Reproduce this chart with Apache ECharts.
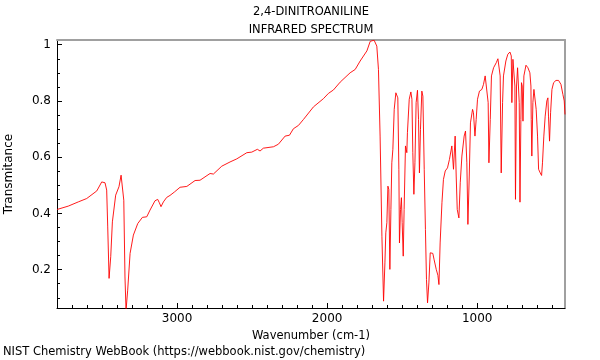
<!DOCTYPE html>
<html><head><meta charset="utf-8">
<script src="https://cdn.jsdelivr.net/npm/echarts@6/dist/echarts.min.js"></script>
<style>html,body{margin:0;padding:0;background:#fff}#c{width:600px;height:360px}</style>
</head><body><div id="c"></div>
<script>
const wavenumbers = [3800,3725,3658,3602,3535,3502,3480,3469,3462,3453,3442,3431,3409,3387,3373,3362,3355,3347,3340,3329,3313,3291,3262,3231,3202,3180,3147,3129,3118,3107,3091,3069,3047,3018,2980,2935,2880,2847,2780,2758,2702,2647,2602,2535,2502,2465,2447,2425,2358,2325,2280,2251,2225,2191,2158,2091,2025,1991,1958,1913,1847,1813,1780,1735,1713,1700,1687,1675,1669,1658,1647,1635,1624,1615,1609,1602,1595,1589,1582,1575,1569,1562,1553,1542,1529,1522,1518,1511,1505,1500,1493,1487,1478,1473,1469,1465,1453,1442,1435,1429,1422,1415,1407,1398,1391,1385,1378,1369,1362,1353,1345,1338,1331,1322,1313,1302,1296,1287,1273,1262,1255,1247,1235,1225,1213,1198,1185,1169,1158,1147,1140,1133,1122,1113,1102,1087,1078,1069,1062,1053,1045,1031,1025,1015,1007,998,985,969,958,947,935,927,922,913,905,891,873,862,853,847,840,831,825,818,809,796,782,773,769,762,753,749,745,738,731,725,720,715,709,705,700,695,689,675,662,649,642,640,636,629,622,615,607,598,591,580,571,565,556,547,536,529,525,518,511,502,491,475,458,442,429,420,415];
const transmittance = [0.414,0.426,0.441,0.453,0.480,0.512,0.509,0.483,0.352,0.169,0.246,0.370,0.465,0.495,0.536,0.530,0.447,0.174,0.055,0.127,0.258,0.323,0.364,0.386,0.388,0.412,0.445,0.450,0.438,0.424,0.441,0.457,0.464,0.476,0.493,0.496,0.517,0.518,0.542,0.540,0.568,0.583,0.594,0.616,0.618,0.628,0.622,0.632,0.637,0.646,0.675,0.678,0.701,0.713,0.734,0.779,0.808,0.827,0.839,0.867,0.900,0.912,0.942,0.978,1.012,1.016,1.016,1.010,0.995,0.912,0.675,0.319,0.088,0.224,0.331,0.367,0.497,0.485,0.201,0.414,0.580,0.628,0.770,0.829,0.811,0.557,0.295,0.414,0.456,0.367,0.248,0.414,0.640,0.628,0.616,0.687,0.806,0.832,0.806,0.616,0.468,0.580,0.794,0.838,0.734,0.544,0.699,0.835,0.817,0.557,0.343,0.165,0.082,0.153,0.260,0.266,0.258,0.235,0.201,0.180,0.147,0.295,0.438,0.521,0.551,0.562,0.592,0.640,0.557,0.675,0.533,0.414,0.384,0.509,0.604,0.675,0.693,0.580,0.361,0.533,0.722,0.770,0.758,0.675,0.734,0.806,0.835,0.841,0.859,0.889,0.895,0.794,0.580,0.734,0.889,0.918,0.936,0.950,0.948,0.889,0.544,0.794,0.889,0.891,0.942,0.966,0.974,0.960,0.794,0.948,0.948,0.853,0.450,0.853,0.918,0.922,0.794,0.440,0.734,0.865,0.853,0.728,0.889,0.927,0.918,0.900,0.853,0.734,0.604,0.794,0.841,0.835,0.770,0.675,0.557,0.544,0.535,0.580,0.675,0.746,0.800,0.811,0.746,0.657,0.758,0.841,0.865,0.873,0.873,0.859,0.823,0.800,0.752];
const xMajorTicks = [1000, 2000, 3000];
const xMinorTicks = [500,600,700,800,900,1100,1200,1300,1400,1500,1600,1700,1800,1900,2100,2200,2300,2400,2500,2600,2700,2800,2900,3100,3200,3300,3400,3500,3600,3700];
const yMajorTicks = [0.2, 0.4, 0.6, 0.8, 1];
const yMinorTicks = [0.1,0.15,0.25,0.3,0.35,0.45,0.5,0.55,0.65,0.7,0.75,0.85,0.9,0.95];
const titleText = '2,4-DINITROANILINE\nINFRARED SPECTRUM';
const xName = 'Wavenumber (cm-1)';
const yName = 'Transmitance';
const footer = 'NIST Chemistry WebBook (https://webbook.nist.gov/chemistry)';

const X_MIN = 415, X_MAX = 3800, Y_MIN = 0.0637, Y_MAX = 1.0167;
const FONT = 'DejaVu Sans';
const chart = echarts.init(document.getElementById('c'), null, {renderer: 'canvas'});
const hidden = {show: false};
chart.setOption({
  animation: false,
  backgroundColor: '#fff',
  title: [
    {text: titleText, left: 311, top: 3, padding: 0, textAlign: 'center',
     textStyle: {fontFamily: FONT, fontSize: 11.5, fontWeight: 'normal', color: '#000', lineHeight: 18}},
    {text: footer, left: 3, top: 346, padding: 0,
     textStyle: {fontFamily: FONT, fontSize: 11.5, fontWeight: 'normal', color: '#000'}}
  ],
  grid: {left: 57, right: 35, top: 40, bottom: 52, outerBoundsMode: 'none', containLabel: false},
  xAxis: [
    {type: 'value', min: X_MIN, max: X_MAX, inverse: true, position: 'bottom',
     name: xName, nameLocation: 'middle', nameGap: 14,
     nameTextStyle: {fontFamily: FONT, fontSize: 11.5, color: '#000'},
     axisLine: {show: true, lineStyle: {color: '#000', width: 1}},
     axisTick: {show: true, inside: true, length: 5, customValues: xMajorTicks, lineStyle: {color: '#000'}},
     axisLabel: {show: true, customValues: xMajorTicks, margin: 5, formatter: v => String(v),
       fontFamily: FONT, fontSize: 12, color: '#000'},
     splitLine: hidden},
    {type: 'value', min: X_MIN, max: X_MAX, inverse: true, position: 'bottom',
     axisLine: hidden,
     axisTick: {show: true, inside: true, length: 3, customValues: xMinorTicks, lineStyle: {color: '#000'}},
     axisLabel: hidden, splitLine: hidden},
    {type: 'value', min: X_MIN, max: X_MAX, inverse: true, position: 'top',
     axisLine: {show: true, lineStyle: {color: '#a0a0a0', width: 2}},
     axisTick: hidden, axisLabel: hidden, splitLine: hidden}
  ],
  yAxis: [
    {type: 'value', min: Y_MIN, max: Y_MAX, position: 'left',
     name: yName, nameLocation: 'middle', nameGap: 42,
     nameTextStyle: {fontFamily: FONT, fontSize: 12, color: '#000'},
     axisLine: {show: true, lineStyle: {color: '#000', width: 1}},
     axisTick: {show: true, inside: true, length: 5, customValues: yMajorTicks, lineStyle: {color: '#000'}},
     axisLabel: {show: true, customValues: yMajorTicks, margin: 6, formatter: v => String(v),
       fontFamily: FONT, fontSize: 12, color: '#000'},
     splitLine: hidden},
    {type: 'value', min: Y_MIN, max: Y_MAX, position: 'left',
     axisLine: hidden,
     axisTick: {show: true, inside: true, length: 3, customValues: yMinorTicks, lineStyle: {color: '#000'}},
     axisLabel: hidden, splitLine: hidden},
    {type: 'value', min: Y_MIN, max: Y_MAX, position: 'right',
     axisLine: {show: true, lineStyle: {color: '#a0a0a0', width: 2}},
     axisTick: hidden, axisLabel: hidden, splitLine: hidden}
  ],
  series: [{
    type: 'line',
    xAxisIndex: 0, yAxisIndex: 0,
    data: wavenumbers.map((w, i) => [w, transmittance[i]]),
    showSymbol: false, symbol: 'none', smooth: false, clip: true,
    lineStyle: {color: '#ff0000', width: 0.9},
    silent: true
  }]
});
</script></body></html>
